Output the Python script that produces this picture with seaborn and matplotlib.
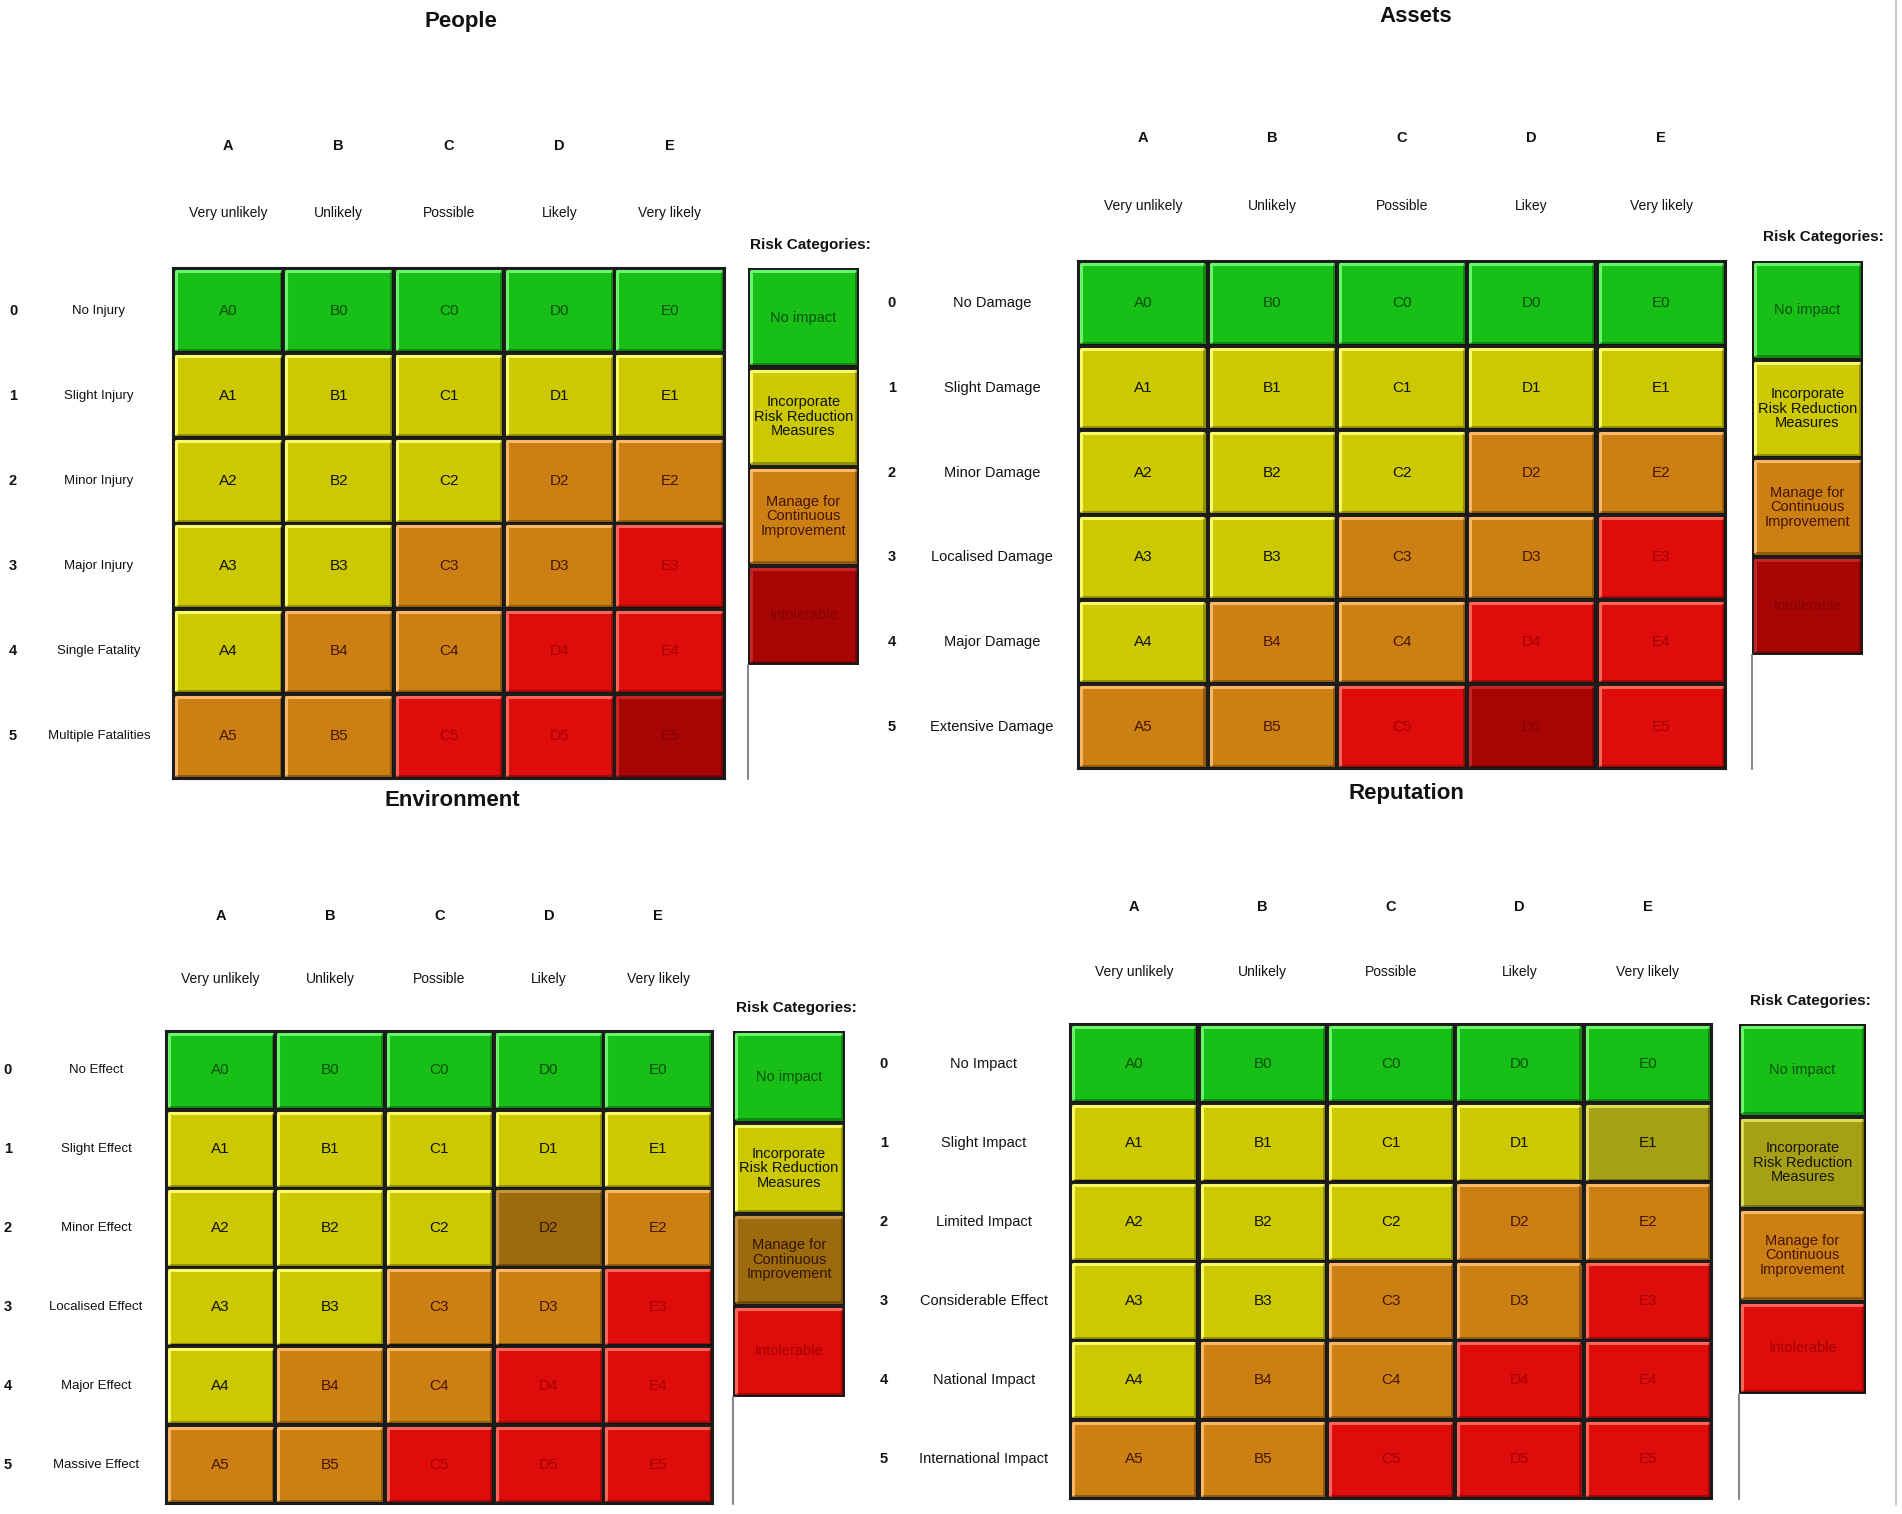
import numpy as np
import pandas as pd
import seaborn as sns
import matplotlib
matplotlib.use("Agg")
import matplotlib.pyplot as plt
from matplotlib.colors import ListedColormap
from matplotlib import transforms
from matplotlib.patches import Rectangle
from matplotlib.lines import Line2D

sns.set_theme(style="white")
plt.rcParams["font.family"] = ["Liberation Sans", "DejaVu Sans"]

W, H = 1902, 1514

# ---------------- data ----------------
letters = ["A", "B", "C", "D", "E"]
severity = ["0", "1", "2", "3", "4", "5"]

people_title = "People"
people_likelihood = ["Very unlikely", "Unlikely", "Possible", "Likely", "Very likely"]
people_rows = ["No Injury", "Slight Injury", "Minor Injury", "Major Injury",
               "Single Fatality", "Multiple Fatalities"]
# category codes: 0 no impact, 1 incorporate, 2 manage, 3 intolerable(red),
# 4 intolerable(dark red), 5 manage(brown), 6 incorporate(olive)
people_cat = [[0, 0, 0, 0, 0],
              [1, 1, 1, 1, 1],
              [1, 1, 1, 2, 2],
              [1, 1, 2, 2, 3],
              [1, 2, 2, 3, 3],
              [2, 2, 3, 3, 4]]
people_legend = [0, 1, 2, 4]

assets_title = "Assets"
assets_likelihood = ["Very unlikely", "Unlikely", "Possible", "Likey", "Very likely"]
assets_rows = ["No Damage", "Slight Damage", "Minor Damage", "Localised Damage",
               "Major Damage", "Extensive Damage"]
assets_cat = [[0, 0, 0, 0, 0],
              [1, 1, 1, 1, 1],
              [1, 1, 1, 2, 2],
              [1, 1, 2, 2, 3],
              [1, 2, 2, 3, 3],
              [2, 2, 3, 4, 3]]
assets_legend = [0, 1, 2, 4]

env_title = "Environment"
env_likelihood = ["Very unlikely", "Unlikely", "Possible", "Likely", "Very likely"]
env_rows = ["No Effect", "Slight Effect", "Minor Effect", "Localised Effect",
            "Major Effect", "Massive Effect"]
env_cat = [[0, 0, 0, 0, 0],
           [1, 1, 1, 1, 1],
           [1, 1, 1, 5, 2],
           [1, 1, 2, 2, 3],
           [1, 2, 2, 3, 3],
           [2, 2, 3, 3, 3]]
env_legend = [0, 1, 5, 3]

rep_title = "Reputation"
rep_likelihood = ["Very unlikely", "Unlikely", "Possible", "Likely", "Very likely"]
rep_rows = ["No Impact", "Slight Impact", "Limited Impact", "Considerable Effect",
            "National Impact", "International Impact"]
rep_cat = [[0, 0, 0, 0, 0],
           [1, 1, 1, 1, 6],
           [1, 1, 1, 2, 2],
           [1, 1, 2, 2, 3],
           [1, 2, 2, 3, 3],
           [2, 2, 3, 3, 3]]
rep_legend = [0, 6, 2, 3]

legend_labels = {0: "No impact",
                 1: "Incorporate\nRisk Reduction\nMeasures",
                 6: "Incorporate\nRisk Reduction\nMeasures",
                 2: "Manage for\nContinuous\nImprovement",
                 5: "Manage for\nContinuous\nImprovement",
                 3: "Intolerable",
                 4: "Intolerable"}

cat_colors = ["#17bf17", "#cdc900", "#cc7f12", "#de0d0b", "#a80505", "#9c6b0e", "#a5a015"]
cat_text = ["#0b4f0b", "#101000", "#451500", "#a50000", "#860000", "#351500", "#161600"]
cat_light = ["#6af56a", "#fafa6a", "#f8b868", "#ff6458", "#c42424", "#c49444", "#dcdc55"]

# ---------------- layout (pixels) ----------------
panels = [
    dict(title=people_title, lik=people_likelihood, rows=people_rows, cat=people_cat,
         leg=people_legend, grid=(173, 268, 725, 779), title_xy=(461, 21),
         let_y=146, lik_y=213, num_x=13, lab_x=99, rc=(810, 245),
         legbox=(748, 268, 859, 665), lab_fs=9.5),
    dict(title=assets_title, lik=assets_likelihood, rows=assets_rows, cat=assets_cat,
         leg=assets_legend, grid=(1078, 261, 1726, 769), title_xy=(1416, 16),
         let_y=138, lik_y=206, num_x=892, lab_x=992, rc=(1823, 237),
         legbox=(1752, 261, 1863, 655), lab_fs=10.5),
    dict(title=env_title, lik=env_likelihood, rows=env_rows, cat=env_cat,
         leg=env_legend, grid=(166, 1031, 713, 1504), title_xy=(452, 801),
         let_y=916, lik_y=979, num_x=8, lab_x=96, rc=(796, 1008),
         legbox=(733, 1031, 845, 1397), lab_fs=9.5),
    dict(title=rep_title, lik=rep_likelihood, rows=rep_rows, cat=rep_cat,
         leg=rep_legend, grid=(1070, 1024, 1712, 1499), title_xy=(1406, 793),
         let_y=907, lik_y=972, num_x=884, lab_x=984, rc=(1810, 1001),
         legbox=(1739, 1024, 1866, 1394), lab_fs=10.5),
]

fig = plt.figure(figsize=(W / 100, H / 100), dpi=100)
fig.patch.set_facecolor("white")

cmap = ListedColormap(cat_colors)


def fx(x):
    return x / W


def fy(y):
    return 1 - y / H


def add_ax(x0, y0, x1, y1):
    return fig.add_axes([fx(x0), fy(y1), (x1 - x0) / W, (y1 - y0) / H])


def bevel(ax, codes):
    nr, nc = codes.shape
    for i in range(nr):
        for j in range(nc):
            c = codes[i, j]
            # highlight on top/left
            ax.add_line(Line2D([j + 0.025, j + 0.025, j + 0.975], [i + 0.965, i + 0.035, i + 0.035],
                               color=cat_light[c], lw=2.2, zorder=3, solid_capstyle="butt"))
            # shadow on bottom/right
            ax.add_line(Line2D([j + 0.025, j + 0.975, j + 0.975], [i + 0.965, i + 0.965, i + 0.035],
                               color="#000000", alpha=0.3, lw=2.0, zorder=3, solid_capstyle="butt"))


for p in panels:
    codes = np.array(p["cat"])
    df = pd.DataFrame(codes, index=severity, columns=letters)
    annot = np.array([[f"{l}{s}" for l in letters] for s in severity])
    ax = add_ax(*p["grid"])
    sns.heatmap(df, ax=ax, cmap=cmap, vmin=-0.5, vmax=len(cat_colors) - 0.5,
                cbar=False, linewidths=2.5, linecolor="#1c1c1c",
                annot=annot, fmt="", annot_kws=dict(fontsize=11))
    for t, c in zip(ax.texts, codes.ravel()):
        t.set_color(cat_text[c])
    bevel(ax, codes)
    ax.set_xticks([])
    ax.set_yticks([])
    ax.set_xlabel("")
    ax.set_ylabel("")
    for s in ax.spines.values():
        s.set_visible(True)
        s.set_color("#1c1c1c")
        s.set_linewidth(1.5)

    # column headers
    tr_x = transforms.blended_transform_factory(ax.transData, fig.transFigure)
    for j, (l, lk) in enumerate(zip(letters, p["lik"])):
        ax.text(j + 0.5, fy(p["let_y"]), l, transform=tr_x, ha="center", va="center",
                fontsize=10.5, fontweight="bold", color="#111111")
        ax.text(j + 0.5, fy(p["lik_y"]), lk, transform=tr_x, ha="center", va="center",
                fontsize=10, color="#111111")
    # row headers
    tr_y = transforms.blended_transform_factory(fig.transFigure, ax.transData)
    for i, (s, lab) in enumerate(zip(severity, p["rows"])):
        ax.text(fx(p["num_x"]), i + 0.5, s, transform=tr_y, ha="center", va="center",
                fontsize=10.5, fontweight="bold", color="#111111")
        ax.text(fx(p["lab_x"]), i + 0.5, lab, transform=tr_y, ha="center", va="center",
                fontsize=p["lab_fs"], color="#111111")

    fig.text(fx(p["title_xy"][0]), fy(p["title_xy"][1]), p["title"], ha="center",
             va="center", fontsize=16, fontweight="bold", color="#111111")
    fig.text(fx(p["rc"][0]), fy(p["rc"][1]), "Risk Categories:", ha="center",
             va="center", fontsize=11, fontweight="bold", color="#111111")

    # legend column
    lx0, ly0, lx1, ly1 = p["legbox"]
    lax = add_ax(lx0, ly0, lx1, ly1)
    lcodes = np.array(p["leg"]).reshape(-1, 1)
    lannot = np.array([[legend_labels[c]] for c in p["leg"]])
    sns.heatmap(pd.DataFrame(lcodes), ax=lax, cmap=cmap, vmin=-0.5,
                vmax=len(cat_colors) - 0.5, cbar=False, linewidths=2.5,
                linecolor="#1c1c1c", annot=lannot, fmt="",
                annot_kws=dict(fontsize=10.5, linespacing=1.05))
    for t, c in zip(lax.texts, lcodes.ravel()):
        t.set_color(cat_text[c])
    bevel(lax, lcodes)
    lax.set_xticks([])
    lax.set_yticks([])
    lax.set_xlabel("")
    lax.set_ylabel("")
    # vertical guide line under the legend
    gx = fx(lx0)
    fig.add_artist(Line2D([gx, gx], [fy(ly1), fy(p["grid"][3])], color="#888888", lw=1.5))

# faint frame line at the right edge
fig.add_artist(Line2D([fx(1896), fx(1896)], [fy(0), fy(1505)], color="#cccccc", lw=1.5))

fig.savefig("out.png", dpi=100, facecolor="white")
